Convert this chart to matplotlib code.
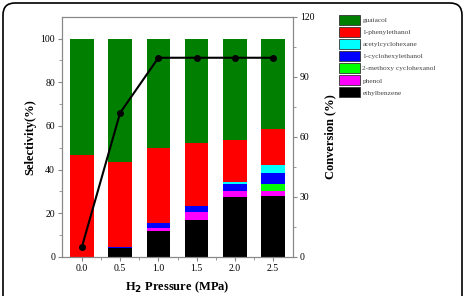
import numpy as np
import matplotlib
matplotlib.use('Agg')
import matplotlib.pyplot as plt
from matplotlib.patches import FancyBboxPatch, Patch

plt.rcParams['font.family'] = ['Liberation Serif', 'DejaVu Serif']

pressure = [0.0, 0.5, 1.0, 1.5, 2.0, 2.5]
tick_labels = ['0.0', '0.5', '1.0', '1.5', '2.0', '2.5']

# selectivity (%) stacked from the bottom up
ethylbenzene = [0.0, 4.2, 11.9, 16.9, 27.3, 28.0]
phenol = [0.0, 0.0, 1.5, 3.5, 2.7, 2.3]
methoxy_cyclohexanol = [0.0, 0.0, 0.0, 0.0, 0.0, 3.1]
cyclohexylethanol = [0.0, 0.4, 2.3, 3.1, 3.4, 5.1]
acetylcyclohexane = [0.0, 0.0, 0.0, 0.0, 1.0, 3.7]
phenylethanol = [46.6, 39.0, 34.3, 28.9, 19.0, 16.6]
guaiacol = [53.4, 56.4, 50.0, 47.6, 46.6, 41.2]

conversion = [5.0, 72.0, 99.5, 99.5, 99.5, 99.5]

series = [
    ('ethylbenzene', ethylbenzene, '#000000'),
    ('phenol', phenol, '#ff00ff'),
    ('2-methoxy cyclohexanol', methoxy_cyclohexanol, '#00ff00'),
    ('1-cyclohexylethanol', cyclohexylethanol, '#0000ff'),
    ('acetylcyclohexane', acetylcyclohexane, '#00ffff'),
    ('1-phenylethanol', phenylethanol, '#ff0000'),
    ('guaiacol', guaiacol, '#007f00'),
]

fig = plt.figure(figsize=(4.65, 2.96), dpi=100)
ax = fig.add_axes([62/465, 1-257/296, (293-62)/465, (257-16.7)/296])

x = np.array(pressure)
bottom = np.zeros(len(x))
for name, vals, col in series:
    ax.bar(x, vals, width=0.31, bottom=bottom, color=col, edgecolor='none')
    bottom += np.array(vals)

ax.set_xlim(-0.26, 2.76)
ax.set_ylim(0, 110)
ax.set_xticks(pressure)
ax.set_xticklabels(tick_labels)
ax.set_xticks(np.arange(0.25, 2.5, 0.5), minor=True)
ax.set_yticks([0, 20, 40, 60, 80, 100])
ax.set_yticks(np.arange(10, 110, 20), minor=True)
ax.tick_params(which='both', direction='out', labelsize=7, color='#888888', pad=2)
ax.tick_params(which='major', length=3)
ax.tick_params(which='minor', length=2)
for s in ax.spines.values():
    s.set_color('#888888')
    s.set_linewidth(0.8)
ax.set_ylabel('Selectivity(%)', fontsize=9, fontweight='bold', labelpad=3)
ax.set_xlabel('H$_\\mathbf{2}$ Pressure (MPa)', fontsize=9, fontweight='bold', labelpad=5)

ax2 = ax.twinx()
ax2.plot(x, conversion, '-o', color='black', lw=1.5, ms=4)
ax2.set_ylim(0, 120)
ax2.set_yticks([0, 30, 60, 90, 120])
ax2.set_yticks([15, 45, 75, 105], minor=True)
ax2.tick_params(which='both', direction='out', labelsize=7, color='#888888', pad=2)
ax2.tick_params(which='major', length=3)
ax2.tick_params(which='minor', length=2)
for s in ax2.spines.values():
    s.set_color('#888888')
    s.set_linewidth(0.8)
ax2.set_ylabel('Conversion (%)', fontsize=9, fontweight='bold', labelpad=7)

handles = [Patch(facecolor=col, edgecolor='#333333', linewidth=0.6, label=name)
           for name, vals, col in series[::-1]]
leg = fig.legend(handles=handles, loc='upper left', bbox_to_anchor=(336/465, 1-12/296),
                 frameon=False, fontsize=5.3, handlelength=2.9, handleheight=1.75,
                 labelspacing=0.25, handletextpad=0.3, borderaxespad=0)
for t in leg.get_texts():
    t.set_color('#444444')

# rounded outer frame, in pixel coordinates, bottom edge off the image
frame = FancyBboxPatch((3, -100), 459, 393, transform=None,
                       boxstyle='round,pad=0,rounding_size=12', facecolor='none',
                       edgecolor='black', linewidth=1.2)
fig.patches.append(frame)

fig.savefig('out.png', dpi=100)
